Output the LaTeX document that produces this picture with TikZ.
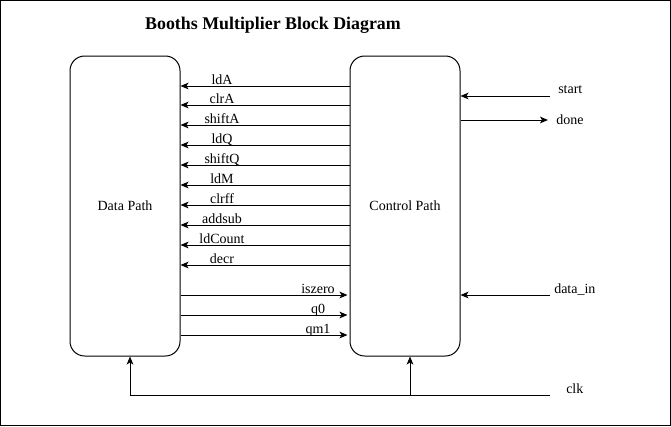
\documentclass[tikz,border=0pt]{standalone}
\usepackage{fontspec}
\setmainfont{Liberation Serif}
\usetikzlibrary{arrows.meta}
\begin{document}
\begin{tikzpicture}[x=0.75pt,y=-0.75pt,
  blk/.style={draw, line width=0.75pt, rounded corners=11pt, minimum width=82.5pt, minimum height=225pt, inner sep=0pt, font=\fontsize{10.5}{12}\selectfont},
  sig/.style={draw, line width=0.75pt, -{Stealth[length=6pt,width=5pt,inset=1.5pt]}},
  lbl/.style={anchor=base, inner sep=0pt, font=\fontsize{10.5}{12}\selectfont},
  lblw/.style={anchor=west, inner sep=0pt, font=\fontsize{10.5}{12}\selectfont}]
\useasboundingbox (0,0) rectangle (671,426);
\draw[line width=0.75pt] (0.5,0.5) rectangle (670.5,425.5);
\node[inner sep=0pt, font=\fontsize{13.4}{16}\selectfont\bfseries] (title) at (273,25) {Booths Multiplier Block Diagram};
\node[blk] (dp) at (125,206) {Data Path};
\node[blk] (cp) at (405,206) {Control Path};
% control -> data
\foreach \yy/\t/\n in {86/ldA/a,105/clrA/b,125/shiftA/c,145/ldQ/d,165/shiftQ/e,185/ldM/f,205/clrff/g,225/addsub/h,245/ldCount/i,265/decr/j}{
  \draw[sig] (cp.west |- 0,\yy) -- (dp.east |- 0,\yy);
  \node[lbl] (l\n) at (222,\yy-2) {\t};
}
% data -> control
\foreach \yy/\t/\n in {295/iszero/a,315/q0/b,335/qm1/c}{
  \draw[sig] (dp.east |- 0,\yy) -- ([xshift=-1.5pt]cp.west |- 0,\yy);
  \node[lbl] (r\n) at (318,\yy-2) {\t};
}
% external
\coordinate (st) at (550,96);
\coordinate (dn) at (548,120);
\coordinate (di) at (550,295);
\coordinate (ck) at (550,395);
\coordinate (ckd) at (130,395);
\coordinate (ckc) at (410,395);
\draw[sig] (st) -- (cp.east |- st);
\draw[sig] (cp.east |- dn) -- (dn);
\draw[sig] (di) -- (cp.east |- di);
\node[lblw] (stl) at (558,90) {start};
\node[lblw] (dnl) at (556,120) {done};
\node[lblw] (dil) at (554,290) {data\_in};
\node[lblw] (ckl) at (566,389) {clk};
\draw[sig] (ck) -- (ckd) -- (ckd |- dp.south);
\draw[sig] (ckc) -- (ckc |- cp.south);
\end{tikzpicture}
\end{document}
